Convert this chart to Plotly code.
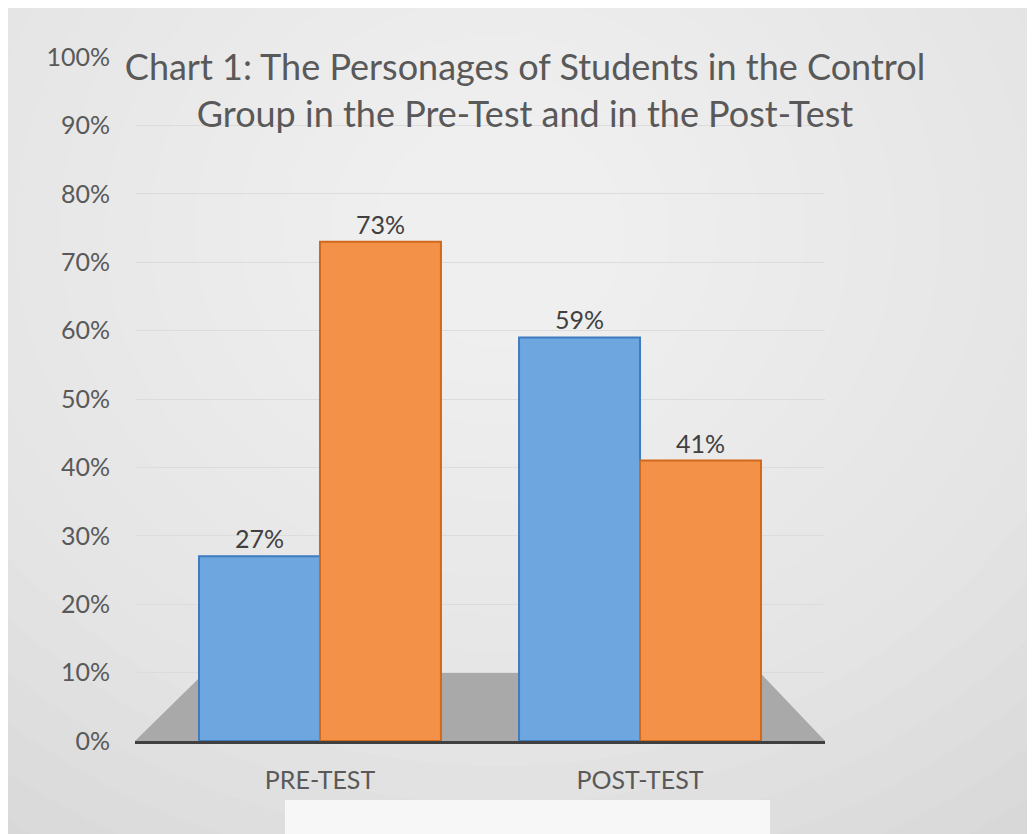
import plotly.graph_objects as go

categories = ["PRE-TEST", "POST-TEST"]
series_a = [0.27, 0.59]   # blue series
series_b = [0.73, 0.41]   # orange series
y_ticks = [0, 0.1, 0.2, 0.3, 0.4, 0.5, 0.6, 0.7, 0.8, 0.9, 1.0]
title_text = "Chart 1: The Personages of Students in the Control<br>Group in the Pre-Test and in the Post-Test"

W, H = 1035, 834
OFF = 8  # page body margin
# target screenshot positions of the plot area
SL, SR, ST, SB = 135, 825, 57, 741
L, T = SL - OFF, ST - OFF
R = W - (SR - OFF)
B = H - (SB - OFF)
pw, ph = W - L - R, H - T - B

def px2paper(x, y):
    # screenshot pixel -> paper coords
    return (x - SL) / pw, (SB - y) / ph

fig = go.Figure()
fig.add_trace(go.Bar(
    x=categories, y=series_a, name="Series 1",
    marker=dict(color="#6ea7e0", line=dict(color="#3d7cc0", width=2)),
    texttemplate="%{y:.0%}", textposition="outside",
    textfont=dict(family="Lato", size=25, color="#404040"),
    cliponaxis=False,
))
fig.add_trace(go.Bar(
    x=categories, y=series_b, name="Series 2",
    marker=dict(color="#f39148", line=dict(color="#d2681c", width=2)),
    texttemplate="%{y:.0%}", textposition="outside",
    textfont=dict(family="Lato", size=25, color="#404040"),
    cliponaxis=False,
))

shapes = []
# chart area background with border
x0, y0 = px2paper(7, 7)
x1, y1 = px2paper(W + 20, H + 20)
shapes.append(dict(type="rect", xref="paper", yref="paper", x0=x0, y0=y1, x1=x1, y1=y0,
                   fillcolor="#cfcfcf", line=dict(color="#bdbdbd", width=1), layer="below"))
# radial-ish lightening
cx, cy = 500, 230
n = 20
for i in range(n):
    rx = 980 - i * 45
    ry = 840 - i * 38
    ax0, ay0 = px2paper(cx - rx, cy - ry)
    ax1, ay1 = px2paper(cx + rx, cy + ry)
    shapes.append(dict(type="circle", xref="paper", yref="paper", x0=ax0, y0=ay1, x1=ax1, y1=ay0,
                       fillcolor="rgba(255,255,255,0.07)", line=dict(width=0), layer="below"))
# bottom legend-like white box
bx0, by0 = px2paper(285, 800)
bx1, by1 = px2paper(770, 845)
shapes.append(dict(type="rect", xref="paper", yref="paper", x0=bx0, y0=by1, x1=bx1, y1=by0,
                   fillcolor="rgba(250,250,250,0.9)", line=dict(width=0), layer="below"))
# floor
shapes.append(dict(type="path", xref="x", yref="y",
                   path="M -0.578,0 L 1.578,0 L 1.375,0.1 L -0.36,0.1 Z",
                   fillcolor="#a9a9a9", line=dict(width=0), layer="below"))

fig.update_layout(
    width=W, height=H,
    margin=dict(l=L, r=R, t=T, b=B),
    paper_bgcolor="white",
    plot_bgcolor="rgba(0,0,0,0)",
    barmode="group", bargap=0.244, bargroupgap=0,
    showlegend=False,
    shapes=shapes,
    title=dict(text=title_text, x=(525 - OFF) / W, xref="container", xanchor="center",
               y=1 - (80 - OFF) / H, yref="container", yanchor="middle",
               font=dict(family="Lato", size=36, color="#595959")),
    xaxis=dict(range=[-0.578, 1.578], showline=True, linecolor="#404040", linewidth=3,
               showgrid=False, ticks="", ticklabelstandoff=15,
               tickfont=dict(family="Lato", size=25, color="#595959")),
    yaxis=dict(range=[0, 1], tickvals=y_ticks, tickformat=".0%", showline=False,
               showgrid=True, gridcolor="#dcdcdc", gridwidth=1, zeroline=False,
               ticks="", ticklabelstandoff=24,
               tickfont=dict(family="Lato", size=25, color="#595959")),
)

fig.write_html("out.html")
